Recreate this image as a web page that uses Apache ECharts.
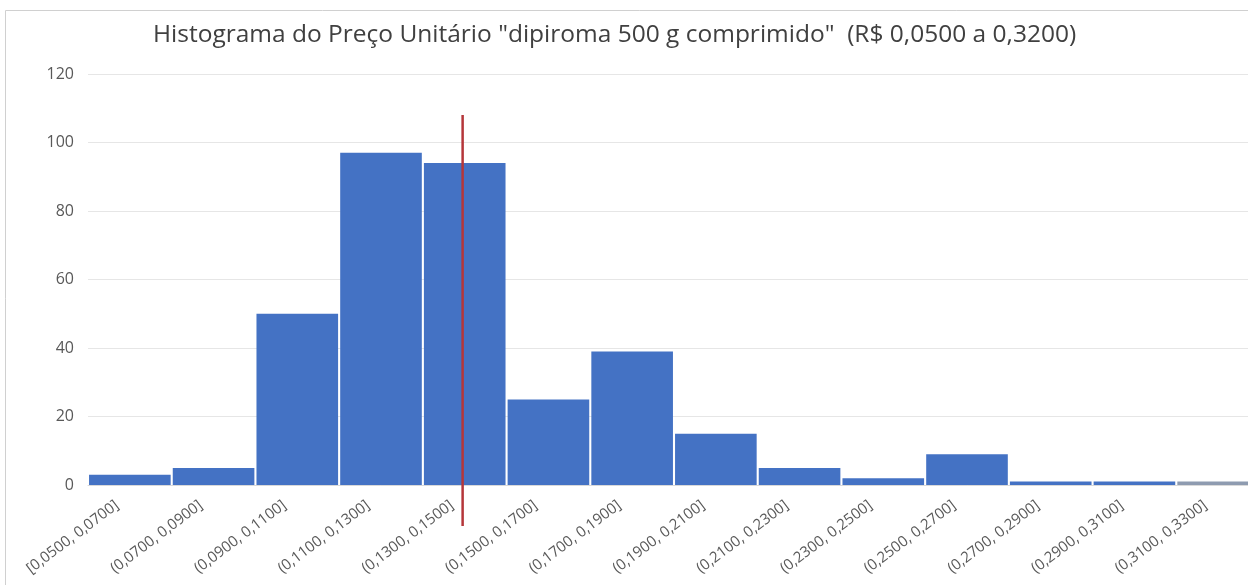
<!DOCTYPE html>
<html><head><meta charset="utf-8">
<script src="https://cdn.jsdelivr.net/npm/echarts@6/dist/echarts.min.js"></script>
<style>html,body{margin:0;padding:0;background:#fff;overflow:hidden;width:1248px;height:585px;}#c{width:1272px;height:585px;}</style>
</head><body><div id="c"></div>
<script>
const titleText = 'Histograma do Preço Unitário "dipiroma 500 g comprimido"  (R$ 0,0500 a 0,3200)';
const categories = ['[0,0500, 0,0700]','(0,0700, 0,0900]','(0,0900, 0,1100]','(0,1100, 0,1300]','(0,1300, 0,1500]','(0,1500, 0,1700]','(0,1700, 0,1900]','(0,1900, 0,2100]','(0,2100, 0,2300]','(0,2300, 0,2500]','(0,2500, 0,2700]','(0,2700, 0,2900]','(0,2900, 0,3100]','(0,3100, 0,3300]'];
const counts = [3, 5, 50, 97, 94, 25, 39, 15, 5, 2, 9, 1, 1, 1];
const binStart = 0.05;
const binEnd = 0.33;
const markerPrice = 0.1395;
const markerTop = 108;
const markerBottom = -12;
const yTicks = [0, 20, 40, 60, 80, 100, 120];

const chart = echarts.init(document.getElementById('c'), null, {renderer:'canvas'});
const font = "'Open Sans', 'Noto Sans', sans-serif";
chart.setOption({
  animation:false,
  backgroundColor:'#fff',
  title:{text:titleText,left:148,top:18,textStyle:{fontFamily:font,fontSize:24.5,fontWeight:'normal',color:'#404040'}},
  graphic:[{type:'rect',shape:{x:5.5,y:10.5,width:1300,height:700},style:{fill:'none',stroke:'#d0d0d0',lineWidth:1},silent:true}],
  grid:{left:88,top:74,width:1172,bottom:100,containLabel:false},
  xAxis:[{type:'category',data:categories,
      axisLine:{lineStyle:{color:'#d9d9d9',width:1}},axisTick:{show:false},
      axisLabel:{rotate:37,interval:0,color:'#595959',fontFamily:font,fontSize:15,margin:9,padding:[0,16,0,0]}},
    {type:'value',min:binStart,max:binEnd,show:false}],
  yAxis:{type:'value',min:yTicks[0],max:yTicks[yTicks.length-1],interval:20,
    axisLine:{show:false},axisTick:{show:false},
    splitLine:{lineStyle:{color:'#e6e6e6',width:1}},
    axisLabel:{color:'#595959',fontFamily:font,fontSize:16,margin:14}},
  series:[{type:'bar',data:counts.map((v,i)=>i===counts.length-1?{value:v,itemStyle:{color:'#8e9bb0'}}:v),barCategoryGap:'2.5%',
      itemStyle:{color:'#4472C4'}},
    {type:'line',xAxisIndex:1,data:[[markerPrice,markerTop],[markerPrice,markerBottom]],symbol:'none',clip:false,
      lineStyle:{color:'#b5363a',width:2.5},z:5}]
});
</script></body></html>
